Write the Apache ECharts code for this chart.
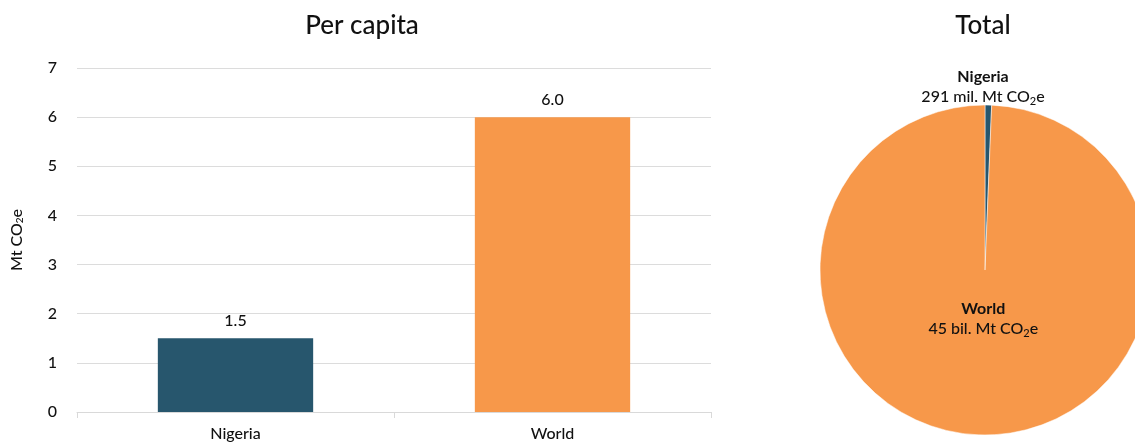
<!DOCTYPE html>
<html><head><meta charset="utf-8">
<script src="https://cdn.jsdelivr.net/npm/echarts@6/dist/echarts.min.js"></script>
<style>html,body{margin:0;padding:0;background:#fff}#c{width:1135px;height:446px}</style>
</head><body><div id="c"></div>
<script>
const categories = ['Nigeria', 'World'];
const perCapita = [1.5, 6.0];
const totalNames = ['Nigeria', 'World'];
const totalValues = [0.291, 45];
const totalLabels = ['291 mil. Mt CO{sub|2}e', '45 bil. Mt CO{sub|2}e'];
const colors = ['#27566d', '#f7984a'];
const FONT = 'Lato, "Open Sans", sans-serif';

const chart = echarts.init(document.getElementById('c'));
chart.setOption({
  animation: false,
  textStyle: { fontFamily: FONT, color: '#111' },
  title: [
    { text: 'Per capita', left: 357, top: 8, textAlign: 'center',
      textStyle: { fontFamily: FONT, fontSize: 26, fontWeight: 500, color: '#111' } },
    { text: 'Total', left: 978, top: 8, textAlign: 'center',
      textStyle: { fontFamily: FONT, fontSize: 26, fontWeight: 500, color: '#111' } }
  ],
  grid: { left: 77, right: 424, top: 68, bottom: 34 },
  xAxis: {
    type: 'category', data: categories,
    axisLine: { lineStyle: { color: '#d9d9d9' } },
    axisTick: { show: true, length: 6, lineStyle: { color: '#d9d9d9' } },
    axisLabel: { fontSize: 16, fontWeight: 500, color: '#111', margin: 14, fontFamily: FONT }
  },
  yAxis: {
    type: 'value', min: 0, max: 7, interval: 1,
    name: 'Mt CO{sub|2}e', nameLocation: 'middle', nameGap: 52, nameRotate: 90,
    nameTextStyle: { fontSize: 16, fontWeight: 500, color: '#111', fontFamily: FONT,
      rich: { sub: { fontSize: 10, fontWeight: 500, verticalAlign: 'bottom', padding: [6, 0, 0, 0], fontFamily: FONT, color: '#111' } } },
    axisLine: { show: false }, axisTick: { show: false },
    axisLabel: { fontSize: 16, fontWeight: 500, color: '#111', margin: 20, fontFamily: FONT },
    splitLine: { lineStyle: { color: '#dcdcdc' } }
  },
  series: [
    {
      type: 'bar', barWidth: '49%',
      data: perCapita.map((v, i) => ({ value: v, itemStyle: { color: colors[i] } })),
      label: { show: true, position: 'top', distance: 9, fontSize: 16, fontWeight: 500, color: '#111',
        fontFamily: FONT, formatter: p => p.value.toFixed(1) }
    },
    {
      type: 'pie', center: [985, 270], radius: 165, startAngle: 90, clockwise: true,
      data: totalNames.map((n, i) => ({ name: n, value: totalValues[i], itemStyle: { color: colors[i] },
        label: { position: i === 0 ? 'outside' : 'inside' } })),
      itemStyle: { borderColor: '#fff', borderWidth: 0.5 },
      labelLine: { show: false },
      label: {
        show: true, fontSize: 16, fontWeight: 500, color: '#111', fontFamily: FONT, lineHeight: 20,
        overflow: 'none', alignTo: 'none',
        formatter: p => '{b|' + p.name + '}\n' + totalLabels[p.dataIndex],
        rich: {
          b: { fontWeight: 'bold', fontSize: 16, color: '#111', fontFamily: FONT, lineHeight: 20, align: 'center' },
          sub: { fontSize: 11, fontWeight: 500, verticalAlign: 'bottom', padding: [6, 0, 0, 0], color: '#111', fontFamily: FONT }
        }
      },
      labelLayout: p => p.dataIndex === 0
        ? { align: 'center', verticalAlign: 'bottom', x: 983, y: 107 }
        : { align: 'center', verticalAlign: 'middle', dy: -37 }
    }
  ]
});
</script></body></html>
